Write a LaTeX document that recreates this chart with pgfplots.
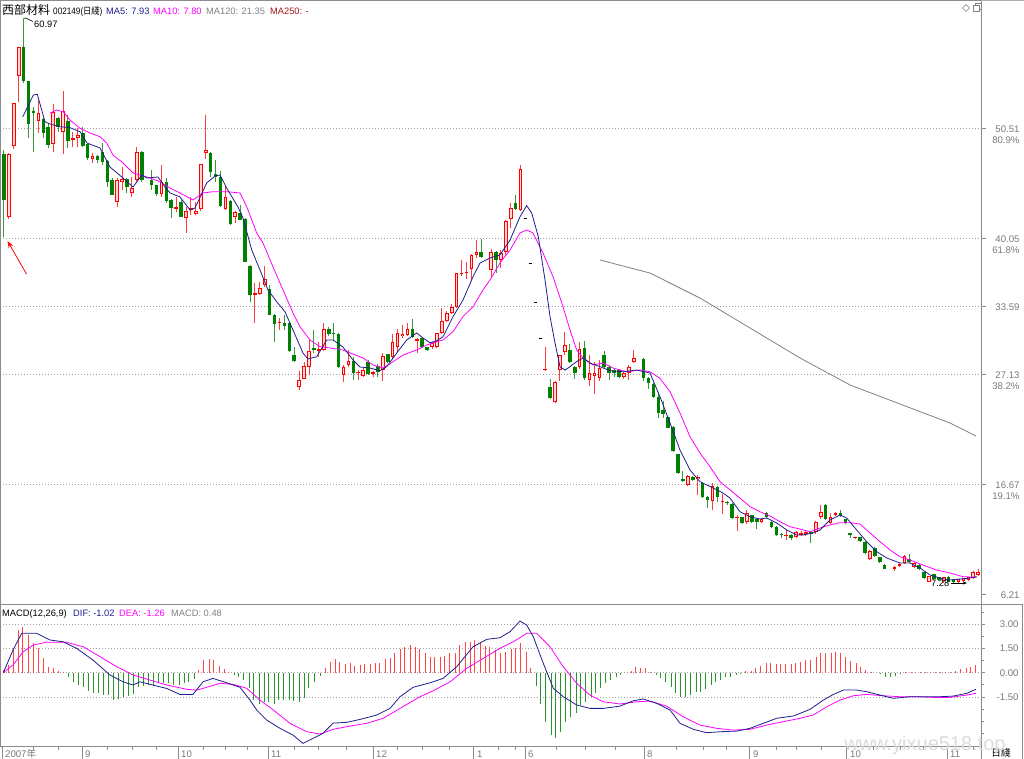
\documentclass[border=0pt]{standalone}
\usepackage{graphicx}
\usepackage{pgfplots}
\usepackage{pgfplotstable}
\pgfplotsset{compat=1.18}
\usetikzlibrary{arrows.meta}
\usepackage{fontspec}
\setmainfont{Liberation Sans}
\newfontfamily\cjk{Noto Sans CJK SC}
\definecolor{cRed}{RGB}{255,0,0}
\definecolor{cRedWick}{RGB}{255,60,60}
\definecolor{cPink}{RGB}{255,215,215}
\definecolor{cGreen}{RGB}{0,128,0}
\definecolor{cGreenWick}{RGB}{60,150,60}
\definecolor{cNavy}{RGB}{30,30,140}
\definecolor{cMag}{RGB}{255,0,255}
\definecolor{cGray}{RGB}{128,128,128}
\definecolor{cBrown}{RGB}{165,20,20}
\definecolor{cAxis}{RGB}{140,140,140}
\definecolor{cGrid}{RGB}{160,160,160}
\definecolor{cLabel}{RGB}{120,120,120}
\definecolor{cBarR}{RGB}{255,70,70}
\definecolor{cBarG}{RGB}{40,150,40}
\newcommand{\lbl}{\fontsize{9.6}{11}\selectfont}
\newcommand{\hdr}{\fontsize{9.3}{11}\selectfont}
\newcommand{\lab}[2]{\smash{\begin{tabular}[t]{@{}r@{}}#1\\#2\end{tabular}}}

% up (red) candles: index open high low close
\pgfplotstableread{
i o h l c
1 42.12 48.20 41.90 48.12
2 48.88 52.97 48.60 52.97
3 55.54 58.30 53.07 58.30
7 51.26 53.26 50.10 52.02
10 49.07 52.90 48.30 52.11
12 50.21 54.11 48.12 52.21
14 49.45 50.21 48.78 49.64
15 49.64 50.59 48.78 49.93
18 47.64 48.21 47.26 47.93
23 43.55 45.83 43.07 45.64
24 45.45 46.88 44.69 45.74
26 44.41 45.93 44.03 44.88
27 45.64 48.78 45.45 48.31
32 44.31 47.07 44.03 45.45
35 42.88 44.03 42.60 43.07
37 42.03 43.07 40.60 42.69
38 42.79 44.03 42.31 42.98
39 42.41 43.55 42.31 42.69
40 42.88 47.20 42.70 47.17
41 48.21 51.83 47.64 48.50
45 42.88 45.07 42.80 44.03
47 42.12 42.70 41.55 42.60
51 34.70 35.84 32.04 34.89
52 34.80 35.94 34.70 35.36
53 35.65 37.45 35.50 36.22
56 32.04 32.50 31.40 32.10
60 25.97 27.50 25.70 26.65
61 26.74 28.33 26.70 27.97
62 27.87 30.40 27.10 29.37
64 29.37 30.23 28.80 29.56
65 29.47 32.04 29.40 31.46
69 27.09 28.04 26.40 27.85
70 28.04 29.47 27.85 28.42
72 27.28 27.60 26.60 27.40
73 26.99 27.75 26.90 27.56
75 27.18 27.50 26.90 27.37
77 27.56 29.20 26.50 28.90
79 28.80 31.00 28.60 30.23
80 29.75 31.47 29.30 31.09
81 30.80 31.80 30.60 31.00
82 30.90 32.00 30.80 31.47
84 30.33 30.60 29.18 30.50
87 29.75 30.20 29.60 30.13
88 29.75 31.10 29.70 31.09
89 31.09 33.50 31.00 32.23
90 32.23 33.20 32.10 32.99
91 33.00 33.80 32.90 33.56
92 33.56 36.80 33.50 36.80
93 36.70 38.00 36.50 36.80
94 36.75 37.80 36.20 36.85
95 37.17 38.60 36.00 38.50
96 38.50 39.90 38.20 38.80
99 37.08 39.08 36.40 38.79
101 38.03 39.00 37.30 38.69
102 38.79 41.80 38.50 41.74
103 41.93 43.45 41.07 42.98
105 42.79 47.07 42.70 46.69
110 27.56 29.75 27.50 27.62
112 24.52 26.50 24.40 26.42
113 27.56 29.00 26.50 28.99
114 29.28 31.18 29.00 29.94
117 27.85 30.20 27.70 29.56
119 26.61 29.00 26.00 27.28
120 26.99 28.30 25.30 27.28
121 26.80 28.50 26.50 27.75
126 26.90 27.40 26.70 27.28
127 27.28 28.00 26.60 27.85
128 28.33 29.50 28.20 28.71
139 16.62 17.60 16.50 17.48
141 17.20 17.60 15.70 17.40
144 15.10 16.80 14.20 16.52
146 15.00 15.80 13.90 15.10
149 13.49 13.80 12.20 13.60
151 13.10 14.20 12.90 13.96
154 13.10 13.50 13.00 13.40
159 11.80 12.30 11.40 11.90
161 11.67 12.20 11.60 12.14
162 11.86 12.20 11.80 12.05
163 11.95 12.30 11.80 12.14
165 12.14 13.20 12.00 13.10
166 13.58 14.70 13.40 14.05
168 13.00 14.00 12.90 13.58
169 13.77 14.10 13.70 13.96
173 11.57 11.70 11.50 11.67
176 9.58 10.40 9.50 10.34
181 8.63 8.90 8.40 8.82
182 8.92 9.20 8.80 9.11
183 9.20 10.00 9.10 9.87
185 8.82 9.30 8.70 9.20
188 7.40 8.00 7.35 7.97
191 7.49 7.90 7.30 7.87
194 7.40 7.70 7.30 7.68
195 7.49 7.80 7.28 7.78
196 7.58 7.90 7.50 7.87
197 7.78 8.40 7.70 8.35
198 8.06 8.60 8.00 8.35
}\upT

% down (green) candles
\pgfplotstableread{
i o h l c
0 48.12 48.50 40.22 43.74
4 58.30 60.97 54.87 55.06
5 55.06 55.10 49.64 50.97
6 52.20 52.60 48.30 52.00
8 51.45 51.50 49.64 50.10
9 50.69 51.07 48.69 48.97
11 51.50 51.60 50.20 50.70
13 51.26 51.83 48.69 49.35
16 50.12 50.69 48.78 48.88
17 49.07 49.10 47.55 47.74
19 47.93 48.02 47.26 47.55
20 48.31 49.16 47.07 47.36
21 47.45 47.55 44.98 45.45
22 45.64 45.83 44.22 44.22
25 45.74 45.80 44.41 44.98
28 48.31 48.40 45.50 45.64
30 45.64 46.59 44.69 45.17
31 45.17 45.20 44.12 44.31
33 45.45 45.83 43.50 43.64
34 43.74 43.80 42.03 42.98
36 43.55 43.74 42.12 42.12
42 48.21 48.30 45.90 46.40
43 46.17 47.55 45.45 45.93
44 45.93 46.50 43.10 43.17
46 43.64 43.70 41.40 41.46
48 42.50 43.26 41.84 41.84
49 41.93 42.00 37.80 37.84
50 37.45 37.55 34.03 34.70
54 35.27 35.65 32.80 32.80
55 32.80 32.90 30.23 31.94
57 32.04 32.80 31.37 31.75
58 32.04 32.10 29.28 29.37
59 29.00 29.75 28.30 28.42
63 29.65 31.37 29.18 29.47
66 31.47 31.66 30.80 31.00
67 31.10 32.04 30.40 31.00
68 31.00 31.10 27.80 27.85
71 28.42 28.80 26.60 27.28
74 28.33 28.50 27.10 27.18
76 27.90 28.10 26.90 27.40
78 29.09 29.10 28.20 28.33
83 31.47 32.40 30.60 30.70
85 30.60 30.70 29.70 29.75
86 29.75 29.80 29.40 29.47
97 38.80 40.00 38.20 38.30
100 38.79 38.90 36.80 38.03
104 43.45 44.20 42.80 42.88
111 25.94 26.70 24.80 24.90
115 29.47 30.00 28.20 28.33
116 27.85 27.90 26.70 27.28
118 29.66 30.30 26.60 26.80
122 28.99 29.40 27.80 27.85
123 27.85 28.00 26.60 27.28
124 27.56 27.80 26.90 27.28
125 27.56 27.70 26.80 26.90
130 28.61 28.70 26.50 26.80
131 26.80 26.90 25.80 26.33
132 26.23 26.30 24.90 24.99
133 24.99 25.50 23.00 23.47
134 23.76 24.60 23.00 23.38
135 23.10 23.10 22.00 22.04
136 22.14 22.20 19.80 19.86
137 19.57 19.60 17.70 17.77
138 17.20 18.00 16.90 17.00
140 17.39 17.50 17.00 17.10
142 16.81 16.90 15.40 15.48
143 15.48 15.60 14.40 15.20
145 16.43 16.50 15.00 15.48
147 15.00 15.10 14.70 14.90
148 14.82 14.90 13.40 13.49
150 13.60 13.60 12.90 13.00
152 13.77 13.80 13.00 13.10
153 13.40 13.50 12.40 13.10
155 13.96 14.10 13.50 13.58
156 13.10 13.20 12.50 12.62
157 12.62 12.70 11.80 11.86
158 12.00 12.10 11.60 11.86
160 11.86 12.00 11.40 11.57
164 12.14 12.20 11.10 11.95
167 14.72 14.80 13.30 13.39
170 13.96 14.20 13.60 13.67
171 13.39 13.40 12.90 13.00
172 12.05 12.10 11.60 11.86
174 11.67 11.70 11.20 11.29
175 11.20 11.30 10.10 10.15
177 10.63 10.70 9.80 9.87
178 9.77 9.80 9.20 9.30
179 9.01 9.10 8.60 8.63
184 9.58 10.10 9.20 9.30
186 9.00 9.10 8.50 8.63
187 8.35 8.40 7.70 7.78
189 8.16 8.20 7.60 7.68
190 7.87 7.90 7.50 7.58
192 7.87 8.00 7.35 7.40
193 7.68 7.70 7.30 7.40
}\dnT

% ex-rights marks during the suspension
\pgfplotstableread{
i p
106 41.99
107 37.72
108 34.00
109 30.58
}\dashT

% MACD histogram
\pgfplotstableread{
i v
0.0 0.15
0.88 0.47
1.9 1.44
2.91 2.63
3.79 2.84
4.95 2.33
5.96 1.81
6.98 1.50
7.99 0.88
9.01 0.33
10.03 0.27
11.04 0.10
12.06 0.06
39.63 0.16
40.65 0.78
41.67 0.84
42.68 0.78
43.7 0.41
44.72 0.23
45.73 0.06
65.25 0.27
66.26 0.68
67.28 0.82
68.29 0.64
69.31 0.53
70.33 0.58
71.34 0.43
72.36 0.47
73.37 0.53
74.39 0.53
75.41 0.58
76.42 0.62
77.44 0.82
78.46 0.93
79.47 1.19
80.49 1.46
81.5 1.60
82.52 1.71
83.54 1.60
84.55 1.46
85.57 1.19
86.59 0.99
87.6 0.95
88.62 0.95
89.63 1.03
90.65 1.23
91.67 1.23
92.68 1.71
93.7 1.91
94.72 1.91
95.73 2.02
96.75 1.91
97.77 1.65
98.78 1.60
99.8 1.40
101.0 1.19
102.03 1.30
103.05 1.46
104.06 1.50
105.08 1.81
106.1 1.30
107.11 0.27
127.44 0.10
128.45 0.37
129.47 0.31
130.48 0.27
131.5 0.06
150.81 0.12
151.83 0.12
152.84 0.27
153.86 0.43
154.88 0.58
155.89 0.58
156.91 0.53
157.92 0.53
158.94 0.53
159.96 0.53
160.97 0.62
161.99 0.68
163.0 0.78
164.02 0.78
165.04 0.99
166.05 1.19
167.07 1.23
168.09 1.23
169.1 1.30
170.12 1.23
171.13 0.99
172.15 0.72
173.17 0.58
174.18 0.37
175.2 0.16
176.22 0.06
183.33 0.02
184.35 0.02
185.36 0.03
186.38 0.02
187.39 0.02
188.41 0.02
189.43 0.03
190.44 0.04
191.46 0.06
192.47 0.06
193.49 0.10
194.51 0.20
195.53 0.27
196.54 0.37
197.56 0.48
}\macdP

\pgfplotstableread{
i v
13.08 -0.29
14.09 -0.56
15.11 -0.77
16.12 -0.90
17.14 -1.11
18.16 -1.23
19.17 -1.28
20.19 -1.38
21.21 -1.38
22.22 -1.69
23.24 -1.63
24.25 -1.48
25.27 -1.44
26.29 -1.32
27.3 -0.86
28.32 -0.82
29.34 -0.76
30.35 -0.82
31.37 -0.66
32.38 -0.66
33.4 -0.66
34.42 -0.76
35.64 -0.76
36.59 -0.66
37.6 -0.56
38.62 -0.41
46.75 -0.14
47.76 -0.25
48.78 -0.45
49.8 -0.97
50.81 -1.69
51.83 -1.93
52.85 -1.79
53.86 -1.79
54.88 -1.93
55.89 -1.69
56.91 -1.69
57.93 -1.69
58.94 -1.73
59.96 -1.79
60.98 -1.58
61.99 -0.97
63.08 -0.56
64.23 -0.21
108.13 -0.82
109.08 -1.93
110.09 -3.02
111.18 -3.85
112.19 -4.05
113.21 -3.64
114.22 -3.02
115.24 -2.76
116.26 -2.47
117.27 -2.00
118.29 -1.79
119.31 -1.48
120.32 -1.28
121.34 -0.97
122.35 -0.66
123.37 -0.45
124.39 -0.29
125.4 -0.14
132.52 -0.14
133.53 -0.35
134.55 -0.56
135.57 -0.90
136.58 -1.28
137.6 -1.52
138.61 -1.48
139.63 -1.38
140.65 -1.17
141.66 -1.17
142.68 -1.03
143.7 -0.76
144.71 -0.56
145.73 -0.45
146.74 -0.25
147.76 -0.25
148.78 -0.14
149.79 -0.08
178.25 -0.08
179.26 -0.25
180.28 -0.25
181.3 -0.21
182.31 -0.04
}\macdN

\begin{document}
\begin{tikzpicture}[x=1pt,y=1pt]

%================ price panel =================
\begin{axis}[
  name=main,
  at={(0,0)}, anchor=north west,
  scale only axis, width=981pt, height=604pt,
  xmin=-0.813, xmax=198.58, ymin=5.30, ymax=62.77,
  axis line style={cAxis, line width=0.8pt},
  xtick=\empty,
  ytick={16.67,27.13,33.59,40.05,50.51},
  yticklabels={{\lab{16.67}{19.1\%}},{\lab{27.13}{38.2\%}},{\lab{33.59}{}},{\lab{40.05}{61.8\%}},{\lab{50.51}{80.9\%}}},
  extra y ticks={6.21}, extra y tick labels={{\lab{6.21}{}}},
  extra y tick style={grid=none},
  ytick pos=right, yticklabel pos=right,
  tick align=outside, major tick length=5pt,
  tick style={cAxis, line width=0.8pt},
  ymajorgrids, grid style={cGrid, line width=0.8pt, dash pattern=on 1pt off 2pt},
  yticklabel style={anchor=east, xshift=37pt, yshift=-3.6pt, font=\lbl, text=cLabel},
  clip=true,
]
% wicks
\addplot[cRedWick, line width=1pt, quiver={u=0,v={\thisrow{h}-\thisrow{l}}}] table[x=i,y=l]{\upT};
\addplot[cGreenWick, line width=1pt, quiver={u=0,v={\thisrow{h}-\thisrow{l}}}] table[x=i,y=l]{\dnT};
% bodies
\addplot[cGreen, line width=3.6pt, quiver={u=0,v={max(\thisrow{o}-\thisrow{c},0.1)}}] table[x=i,y=c]{\dnT};
\addplot[cRed, line width=3.6pt, quiver={u=0,v={max(\thisrow{c}-\thisrow{o},0.1)}}] table[x=i,y=o]{\upT};
\addplot[cPink, line width=1.6pt, quiver={u=0,v={max(\thisrow{c}-\thisrow{o}-0.19,0)}}] table[x=i,y expr=\thisrow{o}+0.095]{\upT};
\addplot[black, line width=1pt, quiver={u=0.7,v=0}] table[x expr=\thisrow{i}-0.35,y=p]{\dashT};
% MA120
\addplot[cGray, line width=0.8pt] coordinates {
(121.14,38.03) (131.3,36.79) (141.46,34.41) (151.63,31.56) (161.79,28.71)
(171.95,26.14) (182.11,24.33) (192.28,22.52) (197.56,21.28)};
% MA10
\addplot[cMag, line width=0.8pt] coordinates {
(9.35,52.02) (10.71,52.3) (12.05,52.14) (13.41,51.35) (15.45,50.56) (17.48,50.12)
(19.51,49.76) (20.87,49.16) (22.15,48.02) (24.19,47.26) (26.22,46.31) (27.64,46.12)
(29.67,45.83) (31.71,45.48) (33.74,44.88) (35.77,44.41) (38.41,43.74) (40.45,44.41)
(42.48,44.53) (45.26,44.53) (47.97,44.41) (49.33,43.11) (51.36,40.6) (52.64,39.65)
(54.67,37.39) (56.71,35.18) (58.74,32.99) (60.16,31.68) (62.2,30.42) (64.23,29.78)
(66.26,29.66) (68.9,29.47) (70.93,29.09) (72.97,28.71) (75.0,28.04) (77.03,27.75)
(79.07,28.35) (81.1,28.99) (83.88,29.47) (85.92,29.94) (87.95,30.26) (89.23,30.42)
(91.26,31.21) (93.29,32.64) (95.33,33.59) (97.36,35.18) (98.78,36.13) (100.81,37.75)
(102.85,38.98) (104.88,40.6) (106.24,40.89) (107.52,40.6) (109.55,38.7) (111.59,36.44)
(113.62,33.59) (115.04,31.37) (116.4,29.47) (117.68,28.71) (119.72,28.04) (121.75,28.23)
(123.78,27.75) (126.57,27.4) (129.27,27.56) (131.3,27.4) (133.33,26.77) (135.37,25.5)
(137.4,23.47) (139.43,21.22) (141.46,19.67) (143.5,18.36) (145.53,16.94) (147.56,16.15)
(149.59,15.38) (151.63,14.56) (153.66,14.08) (155.69,13.67) (157.72,13.13) (159.76,12.65)
(161.79,12.43) (163.82,12.18) (165.85,12.53) (167.89,12.82) (169.92,13.04) (171.95,13.04)
(173.98,12.91) (176.02,12.06) (178.05,11.23) (180.08,10.44) (182.11,9.8) (184.15,9.49)
(186.79,9.01) (189.57,8.53) (192.28,8.25) (194.92,7.9) (197.7,7.85)};
% MA5
\addplot[cNavy, line width=0.8pt] coordinates {
(3.8,51.64) (5.96,53.73) (6.77,53.8) (8.33,51.19) (9.35,50.97) (11.38,50.71)
(13.41,50.62) (15.45,50.24) (16.87,49.16) (19.51,48.69) (21.54,46.88) (24.19,45.83)
(26.22,44.98) (28.05,46.12) (29.07,45.83) (31.3,45.93) (32.72,44.98) (33.74,44.41)
(35.77,44.03) (37.8,42.79) (38.82,42.98) (41.2,45.36) (42.89,46.02) (43.9,46.12)
(45.26,44.88) (47.56,43.07) (48.58,42.03) (50.35,38.98) (52.03,37.08) (53.66,35.18)
(55.43,34.06) (57.11,33.11) (58.74,31.37) (60.77,29.18) (61.79,28.61) (63.56,28.83)
(65.59,30.42) (66.87,30.42) (68.9,29.75) (70.93,28.52) (72.36,27.85) (74.39,27.75)
(76.42,27.5) (77.78,27.88) (79.82,29.18) (81.85,30.42) (83.88,31.09) (85.16,30.61)
(86.59,30.16) (87.95,30.35) (89.23,30.73) (91.26,32.64) (93.29,34.22) (95.33,36.44)
(96.75,37.75) (98.78,38.22) (100.8,38.51) (102.85,39.93) (104.88,42.15) (106.24,43.2)
(107.26,42.5) (108.6,40.25) (109.96,36.13) (110.98,32.64) (112.0,30.13) (113.0,27.88)
(114.02,27.56) (115.04,27.88) (116.4,28.36) (117.68,28.71) (119.1,28.23) (121.14,27.88)
(123.17,27.5) (125.81,27.4) (128.6,27.56) (131.3,27.28) (133.33,25.02) (135.37,22.52)
(137.4,19.95) (139.43,18.05) (141.46,16.94) (144.1,16.34) (146.14,15.86) (147.56,15.38)
(149.59,14.08) (151.63,13.6) (153.66,13.39) (155.02,13.48) (157.05,13.01) (159.09,12.34)
(161.12,11.87) (162.4,11.87) (164.43,12.06) (165.85,12.34) (167.89,13.29) (169.92,13.77)
(171.28,13.48) (173.31,12.34) (175.35,11.23) (177.38,10.28) (179.41,9.68) (182.11,9.2)
(184.15,9.2) (186.18,8.73) (188.21,8.06) (190.24,7.77) (192.28,7.58) (194.31,7.68)
(196.34,7.77) (197.7,7.9)};
\end{axis}

%================ MACD panel =================
\begin{axis}[
  name=macd,
  at={(main.south west)}, anchor=north west,
  scale only axis, width=981pt, height=142pt,
  xmin=-0.813, xmax=198.58, ymin=-4.52, ymax=4.24,
  axis line style={cAxis, line width=0.8pt},
  ytick={-1.5,0,1.5,3}, yticklabels={-1.50,0.00,1.50,3.00},
  minor ytick={-3.75,-3,-2.25,-0.75,0.75,2.25,3.75},
  ytick pos=right, yticklabel pos=right,
  xtick={6,11,21,26,31,40.5,45,49.5,59,64,69.5,80,85,90.5,100.5,104,112.3,118.1,124.2,136.7,142.1,146.9,157,161.1,166.2,176.7,182.1,186.9,197},
  xticklabels={}, xtick pos=left,
  extra x ticks={-0.4,15.85,35.4,53.7,75.0,95.5,105.9,130.1,151.6,171.3,191.7},
  extra x tick labels={},
  extra x tick style={major tick length=13pt, grid=none},
  tick align=outside, major tick length=4pt, minor tick length=3pt,
  tick style={cAxis, line width=0.8pt},
  ymajorgrids, grid style={cGrid, line width=0.8pt, dash pattern=on 1pt off 2pt},
  yticklabel style={anchor=east, xshift=37pt, font=\lbl, text=cLabel},
  clip=true,
]
\addplot[cBarR, line width=1pt, quiver={u=0,v=\thisrow{v}}] table[x=i,y expr=0]{\macdP};
\addplot[cBarG, line width=1pt, quiver={u=0,v=\thisrow{v}}] table[x=i,y expr=0]{\macdN};
% DEA
\addplot[cMag, line width=0.8pt] coordinates {
(-0.14,0) (1.83,0.48) (3.92,1.3) (5.96,1.71) (8.68,1.88) (12.74,1.88) (16.12,1.6)
(19.51,0.99) (22.91,0.37) (26.28,-0.14) (29.67,-0.45) (33.07,-0.76) (37.13,-1.02)
(39.17,-1.07) (41.2,-0.9) (43.9,-0.65) (46.61,-0.72) (49.33,-0.96) (52.03,-1.69)
(54.74,-2.3) (58.13,-3.12) (61.52,-3.64) (64.23,-3.78) (66.93,-3.49) (70.33,-3.29)
(73.72,-3.12) (77.09,-2.81) (80.49,-2.2) (84.55,-1.48) (87.26,-1.11) (90.65,-0.56)
(94.04,0.27) (97.42,0.89) (100.81,1.51) (103.52,1.91) (106.24,2.43) (108.27,2.43)
(110.98,1.6) (113.68,0.37) (116.4,-0.65) (119.11,-1.38) (121.81,-1.79) (125.2,-1.93)
(128.6,-1.79) (131.3,-1.75) (134.69,-2.06) (138.07,-2.72) (141.46,-3.23) (144.86,-3.43)
(148.23,-3.54) (151.63,-3.49) (155.02,-3.23) (158.39,-3.02) (161.79,-2.81) (164.49,-2.61)
(167.22,-2.1) (169.92,-1.69) (172.62,-1.42) (175.35,-1.34) (178.72,-1.42) (182.11,-1.48)
(185.51,-1.48) (188.88,-1.52) (192.28,-1.52) (195.67,-1.38) (197.56,-1.27)};
% DIF
\addplot[cNavy, line width=0.8pt] coordinates {
(-0.14,0) (1.83,1.40) (3.6,2.43) (6.65,2.43) (9.35,2.02) (11.99,1.91) (14.78,1.5)
(18.09,0.78) (21.54,-0.14) (24.19,-0.56) (26.22,-0.76) (27.64,-0.56) (30.28,-0.76)
(33.07,-0.97) (35.77,-1.34) (38.41,-1.34) (40.45,-0.56) (42.48,-0.35) (45.26,-0.62)
(47.97,-0.9) (50.0,-1.69) (51.36,-2.3) (53.4,-2.92) (56.1,-3.43) (58.74,-3.85)
(60.77,-4.36) (62.8,-4.05) (64.84,-3.74) (66.87,-3.11) (69.65,-3.06) (72.36,-2.88)
(75.75,-2.61) (78.46,-2.2) (80.49,-1.48) (83.13,-0.9) (86.59,-0.62) (89.23,-0.35)
(92.01,0.37) (95.33,1.6) (98.11,2.06) (100.81,2.16) (102.85,2.53) (104.88,3.19)
(106.24,2.94) (107.58,2.22) (109.61,0.58) (111.65,-0.96) (113.68,-1.48) (116.4,-1.99)
(119.11,-2.2) (121.81,-2.2) (125.2,-2.06) (127.91,-1.73) (129.94,-1.62) (132.66,-1.89)
(135.37,-2.3) (137.4,-3.12) (140.1,-3.49) (142.82,-3.7) (145.53,-3.64) (148.92,-3.6)
(151.63,-3.43) (154.33,-3.12) (157.05,-2.81) (160.43,-2.67) (163.82,-2.26) (166.52,-1.69)
(168.56,-1.34) (170.59,-1.07) (173.31,-1.07) (175.35,-1.17) (178.05,-1.38) (180.75,-1.58)
(184.15,-1.48) (186.85,-1.48) (190.24,-1.48) (192.95,-1.44) (195.67,-1.27) (197.56,-1.02)};
\end{axis}

%================ frame and texts, measured from the top-left corner =================
\begin{scope}[shift={(main.north west)}]
% frame lines
\draw[cAxis, line width=0.8pt] (981,-746) -- (981,-759);
\draw[cAxis, line width=0.8pt] (981,-604) -- (1022,-604) -- (1022,-759);
\draw[cAxis!70, line width=0.8pt] (981,0) -- (1024,0);

% header
\node[anchor=base west, inner sep=0] at (2,-14.5) {\cjk\fontsize{12}{13}\selectfont 西部材料};
\node[anchor=base west, inner sep=0, font=\hdr] at (53,-14.5) {\scalebox{0.88}[1]{002149({\cjk 日綫})}};
\node[anchor=base west, inner sep=0, font=\hdr, text=cNavy] at (106,-14.5) {MA5: 7.93};
\node[anchor=base west, inner sep=0, font=\hdr, text=cMag] at (153,-14.5) {MA10: 7.80};
\node[anchor=base west, inner sep=0, font=\hdr, text=cGray] at (206,-14.5) {MA120: 21.35};
\node[anchor=base west, inner sep=0, font=\hdr, text=cBrown] at (270,-14.5) {MA250: -};

\node[anchor=base west, inner sep=0, font=\hdr] at (2,-616) {MACD(12,26,9)};
\node[anchor=base west, inner sep=0, font=\hdr, text=cNavy] at (73,-616) {DIF: -1.02};
\node[anchor=base west, inner sep=0, font=\hdr, text=cMag] at (119,-616) {DEA: -1.26};
\node[anchor=base west, inner sep=0, font=\hdr, text=cGray] at (171,-616) {MACD: 0.48};

% extreme labels
\draw[black, line width=0.6pt] (23.5,-18.5) -- (25.5,-18) -- (33,-21.5);
\node[anchor=west, inner sep=0, font=\hdr] at (34,-24) {60.97};
\node[anchor=west, inner sep=0, font=\hdr] at (931,-583) {7.28};
\draw[black, line width=0.6pt, -{Stealth[length=4pt,width=3pt]}] (951,-583) -- (967,-583);
% red arrow pointing at the first day low
\draw[cRed, line width=0.8pt, -{Stealth[length=7pt,width=5pt]}] (26.5,-274) -- (7.5,-241);

% top-right icons
\draw[cGray, line width=0.6pt] (966,-4.5) -- (969.5,-8) -- (966,-11.5) -- (962.5,-8) -- cycle;
\draw[cGray, line width=0.6pt] (973,-11) rectangle (979,-5);
\draw[cGray, line width=0.6pt] (975,-5) -- (975,-3) -- (981,-3) -- (981,-9) -- (979,-9);

% month labels
\begin{scope}[every node/.style={anchor=west, inner sep=0, font=\lbl, text=cLabel}]
\node at (5,-754) {2007{\cjk 年}};
\node at (85,-754) {9};
\node at (181,-754) {10};
\node at (271,-754) {11};
\node at (376,-754) {12};
\node at (477,-754) {1};
\node at (528,-754) {6};
\node at (647,-754) {8};
\node at (753,-754) {9};
\node at (850,-754) {10};
\node at (950,-754) {11};
\end{scope}
\node[anchor=center, inner sep=0] at (1001,-753) {\cjk\fontsize{9.6}{11}\selectfont 日綫};

% watermark
\node[anchor=center, inner sep=0, text=black!14, font=\fontsize{20}{22}\selectfont] at (925,-745) {www.yixue518.top};
\end{scope}

\pgfresetboundingbox
\path[use as bounding box] (main.north west) rectangle ++(1024,-759);
\end{tikzpicture}
\end{document}
